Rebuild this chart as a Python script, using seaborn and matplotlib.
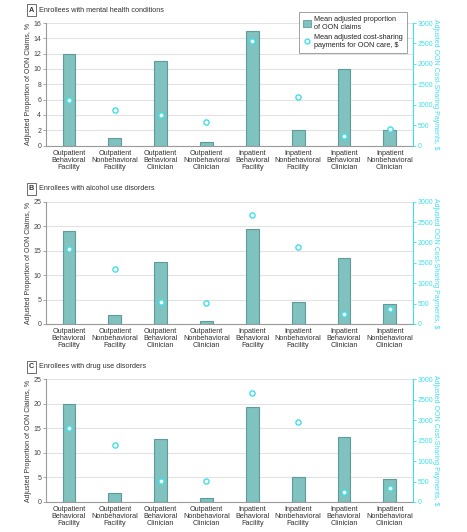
import matplotlib
matplotlib.use("Agg")
import matplotlib.pyplot as plt
import seaborn as sns
import numpy as np
import pandas as pd
from matplotlib.lines import Line2D
from matplotlib.patches import Patch

sns.set_theme(style="white")
plt.rcParams['font.family'] = ['Liberation Sans Narrow', 'Liberation Sans', 'DejaVu Sans']

categories = ["Outpatient\nBehavioral\nFacility", "Outpatient\nNonbehavioral\nFacility",
              "Outpatient\nBehavioral\nClinician", "Outpatient\nNonbehavioral\nClinician",
              "Inpatient\nBehavioral\nFacility", "Inpatient\nNonbehavioral\nFacility",
              "Inpatient\nBehavioral\nClinician", "Inpatient\nNonbehavioral\nClinician"]

panel_titles = ["Enrollees with mental health conditions",
                "Enrollees with alcohol use disorders",
                "Enrollees with drug use disorders"]
panel_letters = ["A", "B", "C"]

oon_mental = [12.0, 1.0, 11.0, 0.5, 15.0, 2.0, 10.0, 2.0]
cost_mental = [1120, 860, 745, 575, 2560, 1190, 230, 400]

oon_alcohol = [19.0, 1.8, 12.7, 0.6, 19.4, 4.4, 13.4, 4.0]
cost_alcohol = [1840, 1357, 540, 515, 2680, 1880, 245, 360]

oon_drug = [20.0, 1.8, 12.8, 0.75, 19.3, 5.0, 13.2, 4.7]
cost_drug = [1817, 1386, 513, 521, 2673, 1964, 245, 350]

left_max = [16, 25, 25]
left_step = [2, 5, 5]
right_ticks = [0, 500, 1000, 1500, 2000, 2500, 3000]

bar_color = "#80c2bf"
bar_edge = "#5f9c99"
cyan = "#3fe0ea"
grey = "#9a9a9a"
fs = 5.2

W, H = 467, 532
fig = plt.figure(figsize=(W / 100, H / 100), dpi=100)

panels = [(oon_mental, cost_mental), (oon_alcohol, cost_alcohol), (oon_drug, cost_drug)]
tops = [23, 201.7, 379.3]
bottoms = [145.5, 324, 502]
title_y = [10, 189, 367]
x0, x1 = 46, 412.7

for i, (oon, cost) in enumerate(panels):
    ax = fig.add_axes([x0 / W, 1 - bottoms[i] / H, (x1 - x0) / W, (bottoms[i] - tops[i]) / H])
    df = pd.DataFrame({"cat": categories, "oon": oon, "cost": cost})
    sns.barplot(data=df, x="cat", y="oon", order=categories, color=bar_color,
                edgecolor=bar_edge, linewidth=0.8, width=0.28, saturation=1, ax=ax, zorder=2)
    ax.set_xlim(-0.5, 7.5)
    ax.set_ylim(0, left_max[i])
    ax.set_yticks(np.arange(0, left_max[i] + 0.1, left_step[i]))
    ax.yaxis.grid(True, color="#e2e2e2", linewidth=0.8, zorder=0)
    ax.set_axisbelow(True)
    ax.set_xlabel("")
    ax.set_ylabel("Adjusted Proportion of OON Claims, %", fontsize=fs - 0.2, color="#333333", labelpad=1)
    ax.tick_params(axis="y", labelsize=fs - 0.2, length=2, width=0.6, color=grey, pad=1.5, labelcolor="#444444")
    ax.tick_params(axis="x", labelsize=fs, length=0, pad=3, labelcolor="#333333")
    for lab in ax.get_xticklabels():
        lab.set_linespacing(1.0)
    for s in ["top", "right"]:
        ax.spines[s].set_visible(False)
    for s in ["left", "bottom"]:
        ax.spines[s].set_color(grey)
        ax.spines[s].set_linewidth(0.8)

    ax2 = ax.twinx()
    sns.scatterplot(x=np.arange(len(categories)), y=cost, ax=ax2, marker="o", s=14,
                    facecolor="white", edgecolor=cyan, linewidth=1.0, zorder=5)
    ax2.set_ylim(0, 3000)
    ax2.set_yticks(right_ticks)
    ax2.set_ylabel("Adjusted OON Cost-Sharing Payments, $", fontsize=fs - 0.2, color=cyan,
                   rotation=-90, labelpad=4)
    ax2.tick_params(axis="y", labelsize=fs - 0.2, length=2, width=0.6, color=cyan, labelcolor=cyan, pad=1.5)
    for s in ["top", "left", "bottom"]:
        ax2.spines[s].set_visible(False)
    ax2.spines["right"].set_color(cyan)
    ax2.spines["right"].set_linewidth(0.8)
    ax2.grid(False)

    fig.text(31.5 / W, 1 - title_y[i] / H, panel_letters[i], fontsize=fs, fontweight="bold",
             ha="center", va="center", color="#333333",
             bbox=dict(boxstyle="square,pad=0.3", fc="white", ec="#555555", lw=0.6))
    fig.text(39 / W, 1 - title_y[i] / H, panel_titles[i], fontsize=fs, ha="left",
             va="center", color="#333333")

handles = [Patch(facecolor=bar_color, edgecolor=bar_edge, linewidth=0.6),
           Line2D([], [], marker="o", linestyle="none", markersize=3.5, markerfacecolor="white",
                  markeredgecolor=cyan, markeredgewidth=1.0)]
labels = ["Mean adjusted proportion\nof OON claims", "Mean adjusted cost-sharing\npayments for OON care, $"]
leg = fig.legend(handles, labels, loc="upper right", bbox_to_anchor=(411 / W, 1 - 8 / H),
                 fontsize=fs, frameon=True, fancybox=False, edgecolor="#777777",
                 handlelength=1.0, handleheight=1.0, handletextpad=0.5, borderpad=0.6,
                 labelspacing=0.4)
leg.get_frame().set_linewidth(0.6)

fig.savefig("out.png", dpi=100)
